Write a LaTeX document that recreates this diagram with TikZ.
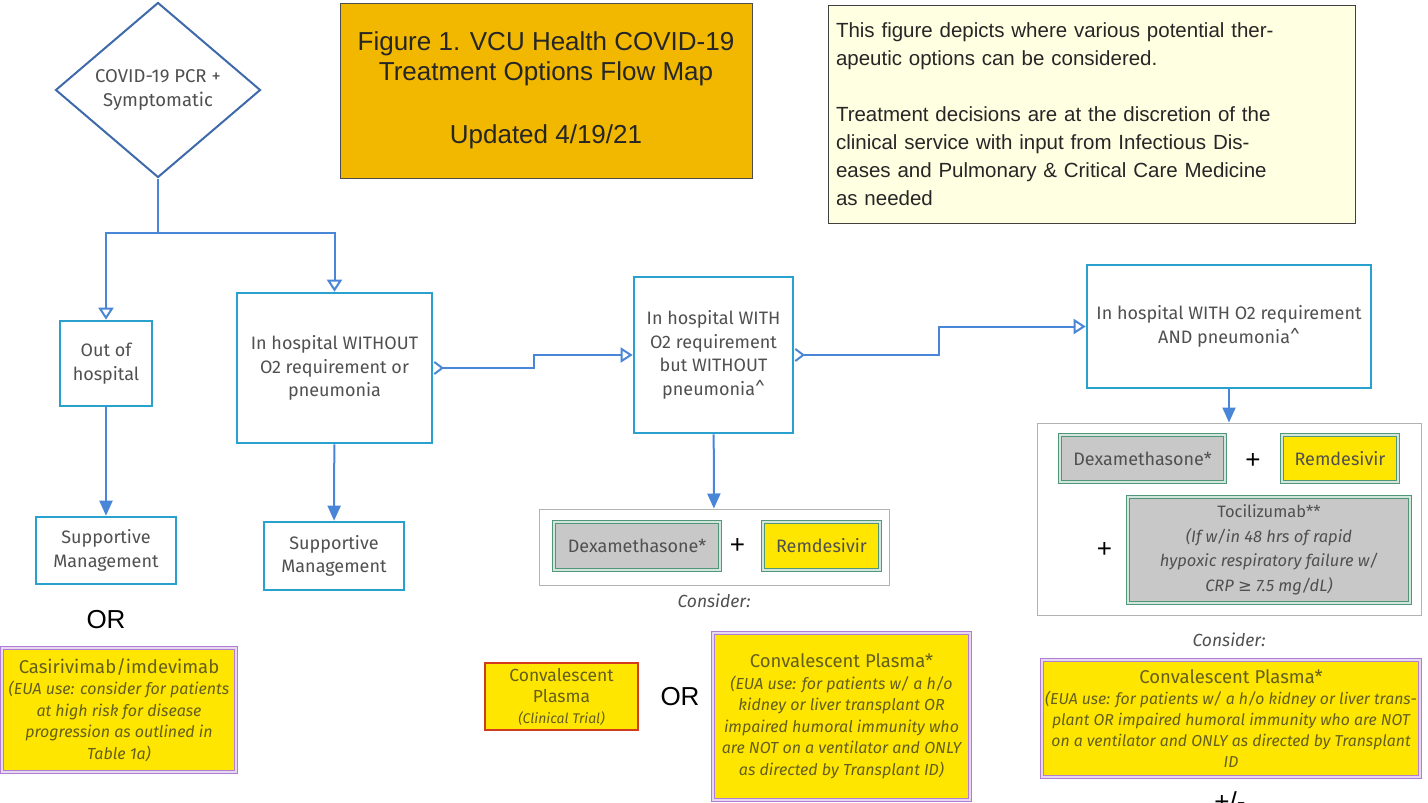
\documentclass[tikz,border=0pt]{standalone}
\usepackage{fontspec}
\setmainfont{Fira Sans}
\newfontfamily\helv{Liberation Sans}
\newfontfamily\glyphfont{DejaVu Sans}
\usepackage{xcolor}
\usepackage{tikz}
\usetikzlibrary{shapes,arrows.meta,positioning}

\definecolor{linkblue}{RGB}{74,134,216}
\definecolor{boxcyan}{RGB}{41,161,206}
\definecolor{diamblue}{RGB}{62,105,170}
\definecolor{boxtext}{RGB}{80,80,80}
\definecolor{druggray}{RGB}{200,200,200}
\definecolor{druggreen}{RGB}{80,150,120}
\definecolor{drugyellow}{RGB}{255,230,0}
\definecolor{euatext}{RGB}{100,95,30}
\definecolor{euapurple}{RGB}{175,125,210}
\definecolor{trialred}{RGB}{210,60,30}
\definecolor{titlegold}{RGB}{242,184,0}
\definecolor{notecream}{RGB}{255,255,226}

\begin{document}
\begin{tikzpicture}[x=1pt, y=-1pt, every node/.style={font=\fontsize{18}{23.5}\selectfont, text=boxtext}]
        \tikzstyle{decision} = [diamond, draw=diamblue, line width=2pt, fill=white,
            minimum width=205pt, minimum height=175pt, inner sep=0pt, align=center,
            font=\fontsize{18.5}{24}\selectfont]
        \tikzstyle{block} = [rectangle, draw=boxcyan, line width=2.6pt, fill=white,
            align=center, inner sep=4pt]
        \tikzstyle{drug} = [rectangle, draw=druggreen, double=druggreen!25, double distance=1.8pt,
            line width=0.9pt, fill=druggray, align=center, inner sep=3pt, font=\fontsize{18}{24}\selectfont]
        \tikzstyle{eua} = [rectangle, draw=euapurple, double=euapurple!30, double distance=1.8pt,
            line width=0.9pt, fill=drugyellow, align=center, inner sep=2pt, text=euatext,
            font=\itshape\fontsize{16}{21.5}\selectfont]
        \tikzstyle{trial} = [rectangle, draw=trialred, line width=2.4pt, fill=drugyellow,
            align=center, inner sep=2pt, text=euatext, font=\fontsize{17.5}{21}\selectfont]
        \tikzstyle{group} = [rectangle, draw=black!30, line width=1pt]
        \tikzstyle{link} = [draw=linkblue, line width=2pt]
        \tikzstyle{arrow} = [link, -{Triangle[length=15pt, width=13pt]}]
        \tikzstyle{openarrow} = [link, -{Triangle[open, length=12pt, width=15pt]}]
        \tikzstyle{steparrow} = [link, {Straight Barb[reversed, length=8pt, width=12pt]}-{Triangle[open, length=12pt, width=15pt]}]
        \tikzstyle{plain} = [font=\fontsize{26}{28}\selectfont\helv, text=black]
        \tikzstyle{hint} = [font=\itshape\fontsize{17.5}{20}\selectfont]
        \newcommand{\euahead}{\upshape\fontsize{18.5}{22}\selectfont}

        \useasboundingbox (0,0) rectangle (1428,803);

        % header boxes
        \node (title) [rectangle, draw=black!70, line width=1pt, fill=titlegold, minimum width=412pt,
            minimum height=175pt, align=center, text=black!85, font=\fontsize{26}{30}\selectfont\helv]
            at (546,90.5) {Figure 1. VCU Health COVID-19\\Treatment Options Flow Map\\[33pt]Updated 4/19/21};
        \node (note) [rectangle, draw=black!75, line width=1pt, fill=notecream, minimum width=527pt,
            minimum height=218pt, text width=511pt, align=left, text=black!85, font=\fontsize{20.5}{28}\selectfont\helv]
            at (1091.5,114) {This figure depicts where various potential ther-\\apeutic options can be considered.\\[28pt]%
            Treatment decisions are at the discretion of the\\clinical service with input from Infectious Dis-\\%
            eases and Pulmonary \& Critical Care Medicine\\as needed};

        % flow
        \node (pcr) [decision] at (158,90) {COVID-19 PCR +\\Symptomatic};
        \node (out) [block, minimum width=92pt, minimum height=85pt] at (106,363.5) {Out of\\hospital};
        \node (inwo) [block, minimum width=195pt, minimum height=150pt] at (334.5,368) {In hospital WITHOUT\\O2 requirement or\\pneumonia};
        \node (inwith) [block, minimum width=159pt, minimum height=156pt] at (713.5,355) {In hospital WITH\\O2 requirement\\but WITHOUT\\pneumonia\textasciicircum};
        \node (inpn) [block, minimum width=284pt, minimum height=123pt] at (1229,326.5) {In hospital WITH O2 requirement\\AND pneumonia\textasciicircum};
        \node (sup1) [block, minimum width=140pt, minimum height=67pt] at (106,550.5) {Supportive\\Management};
        \node (sup2) [block, minimum width=140pt, minimum height=68pt] at (334,556) {Supportive\\Management};

        % treatments
        \node (mgroup) [group, minimum width=350pt, minimum height=76pt] at (714,547) {};
        \node (dex1) [drug, minimum width=166pt, minimum height=48pt] at (637,546) {Dexamethasone*};
        \node (plus1) [plain, right=6pt of dex1] {+};
        \node (rem1) [drug, fill=drugyellow, minimum width=117pt, minimum height=48pt] at (821.5,546) {Remdesivir};
        \node (rgroup) [group, minimum width=384pt, minimum height=192pt] at (1229,519) {};
        \node (dex2) [drug, minimum width=165pt, minimum height=47pt] at (1142.5,458.5) {Dexamethasone*};
        \node (plus2) [plain] at (1253,461) {+};
        \node (rem2) [drug, fill=drugyellow, minimum width=116pt, minimum height=47pt] at (1340,458.5) {Remdesivir};
        \node (toci) [drug, minimum width=282pt, minimum height=106pt, font=\itshape\fontsize{16.5}{24.5}\selectfont] at (1269,550)
            {{\upshape Tocilizumab**}\\(If w/in 48 hrs of rapid\\hypoxic respiratory failure w/\\CRP {\glyphfont\upshape ≥} 7.5 mg/dL)};
        \node (plus3) [plain, left=12pt of toci] {+};

        \node (cons1) [hint, below=5pt of mgroup] {Consider:};
        \node (cons2) [hint, below=14pt of rgroup] {Consider:};

        \node (or1) [plain] at (106,620) {OR};
        \node (casi) [eua, minimum width=234pt, minimum height=124pt] at (119,710)
            {{\euahead Casirivimab/imdevimab}\\(EUA use: consider for patients\\at high risk for disease\\progression as outlined in\\Table 1a)};
        \node (trial) [trial, minimum width=153pt, minimum height=67pt] at (561.5,696.5)
            {Convalescent\\Plasma\\{\itshape\fontsize{14}{17}\selectfont (Clinical Trial)}};
        \node (or2) [plain] at (680,697) {OR};
        \node (cp1) [eua, minimum width=257pt, minimum height=167pt] at (841.5,716.5)
            {{\euahead Convalescent Plasma*}\\(EUA use: for patients w/ a h/o\\kidney or liver transplant OR\\impaired humoral immunity who\\are NOT on a ventilator and ONLY\\as directed by Transplant ID)};
        \node (cp2) [eua, minimum width=378pt, minimum height=117pt, font=\itshape\fontsize{15.8}{21}\selectfont] at (1231,718.5)
            {{\euahead Convalescent Plasma*}\\(EUA use: for patients w/ a h/o kidney or liver trans-\\plant OR impaired humoral immunity who are NOT\\on a ventilator and ONLY as directed by Transplant\\ID};
        \node (pm) [plain] at (1230,801) {+/-};

        % connectors
        \coordinate (split) at (158,233);
        \draw [link] (pcr.south) -- (split);
        \draw [openarrow] (split) -| (out.north);
        \draw [openarrow] (split) -| (inwo.north);
        \draw [arrow] (out) -- (sup1);
        \draw [arrow] (inwo) -- (sup2);
        \draw [steparrow] (inwo.east) -- ++(101,0) |- (inwith.west);
        \draw [steparrow] (inwith.east) -- ++(145,0) |- (inpn.west);
        \draw [arrow] (inwith) -- (mgroup);
        \draw [arrow] (inpn) -- (rgroup);
    \end{tikzpicture}
\end{document}
